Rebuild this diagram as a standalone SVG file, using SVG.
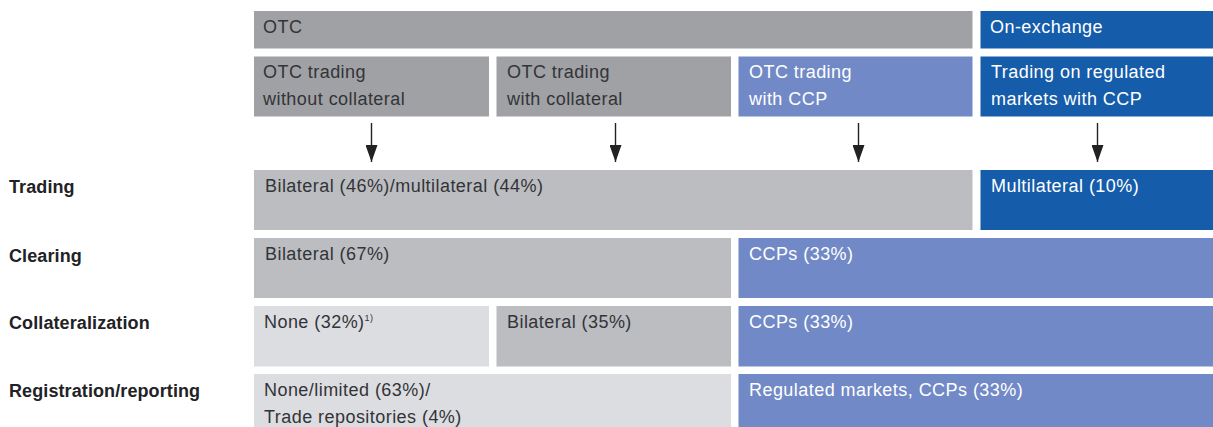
<svg xmlns="http://www.w3.org/2000/svg" width="1213" height="427" viewBox="0 0 1213 427">
<style>
text{font-family:"Liberation Sans",Arial,sans-serif;font-size:18px;letter-spacing:0.45px}
.dk{fill:#a0a1a5}.md{fill:#bcbdc1}.lt{fill:#dcdde0}.bl{fill:#7189c6}.db{fill:#155caa}
.t{fill:#333438}.w{fill:#ffffff}
.lab{font-weight:bold;fill:#222226;letter-spacing:0.1px}
.ar{stroke:#222;stroke-width:1.4;fill:none}
</style>
<defs>
<marker id="ah" markerWidth="17" markerHeight="12" refX="17" refY="6" orient="auto" markerUnits="userSpaceOnUse" viewBox="0 0 17 12">
<path d="M0,0 L17,6 L0,12 Z" fill="#222"/>
</marker>
</defs>
<g id="otc"><rect class="dk" x="254" y="11" width="718.5" height="37.5"/><text class="t" x="263" y="33">OTC</text></g>
<g id="onexchange"><rect class="db" x="980.5" y="11" width="232.5" height="37.5"/><text class="w" x="990" y="33">On-exchange</text></g>
<g id="otc-no-coll"><rect class="dk" x="254" y="56.5" width="235" height="60"/><text class="t" x="263" y="78">OTC trading</text><text class="t" x="263" y="105">without collateral</text></g>
<g id="otc-coll"><rect class="dk" x="496.5" y="56.5" width="234.5" height="60"/><text class="t" x="507" y="78">OTC trading</text><text class="t" x="507" y="105">with collateral</text></g>
<g id="otc-ccp"><rect class="bl" x="738.5" y="56.5" width="234" height="60"/><text class="w" x="749" y="78">OTC trading</text><text class="w" x="749" y="105">with CCP</text></g>
<g id="regulated"><rect class="db" x="980.5" y="56.5" width="232.5" height="60"/><text class="w" x="991" y="78">Trading on regulated</text><text class="w" x="991" y="105">markets with CCP</text></g>
<g id="connectors">
<line class="ar" x1="371.5" y1="123" x2="371.5" y2="162" marker-end="url(#ah)"/>
<line class="ar" x1="615.5" y1="123" x2="615.5" y2="162" marker-end="url(#ah)"/>
<line class="ar" x1="858.5" y1="123" x2="858.5" y2="162" marker-end="url(#ah)"/>
<line class="ar" x1="1097.5" y1="123" x2="1097.5" y2="162" marker-end="url(#ah)"/>
</g>
<g id="labels">
<text class="lab" x="9" y="193">Trading</text>
<text class="lab" x="9" y="262">Clearing</text>
<text class="lab" x="9" y="329">Collateralization</text>
<text class="lab" x="9" y="397">Registration/reporting</text>
</g>
<g id="trading-otc"><rect class="md" x="254" y="170" width="718.5" height="60"/><text class="t" x="265" y="192">Bilateral (46%)/multilateral (44%)</text></g>
<g id="trading-ex"><rect class="db" x="980.5" y="170" width="232.5" height="60"/><text class="w" x="991" y="192">Multilateral (10%)</text></g>
<g id="clearing-bi"><rect class="md" x="254" y="238" width="477" height="60"/><text class="t" x="265" y="260">Bilateral (67%)</text></g>
<g id="clearing-ccp"><rect class="bl" x="738.5" y="238" width="474.5" height="60"/><text class="w" x="749" y="260">CCPs (33%)</text></g>
<g id="coll-none"><rect class="lt" x="254" y="306" width="235" height="60.5"/><text class="t" x="264" y="328">None (32%)<tspan font-size="9" dy="-7">1)</tspan></text></g>
<g id="coll-bi"><rect class="md" x="496.5" y="306" width="234.5" height="60.5"/><text class="t" x="507" y="328">Bilateral (35%)</text></g>
<g id="coll-ccp"><rect class="bl" x="738.5" y="306" width="474.5" height="60.5"/><text class="w" x="749" y="328">CCPs (33%)</text></g>
<g id="reg-none"><rect class="lt" x="254" y="374" width="477" height="60"/><text class="t" x="264" y="396">None/limited (63%)/</text><text class="t" x="264" y="423">Trade repositories (4%)</text></g>
<g id="reg-ccp"><rect class="bl" x="738.5" y="374" width="474.5" height="60"/><text class="w" x="749" y="396">Regulated markets, CCPs (33%)</text></g>
</svg>
